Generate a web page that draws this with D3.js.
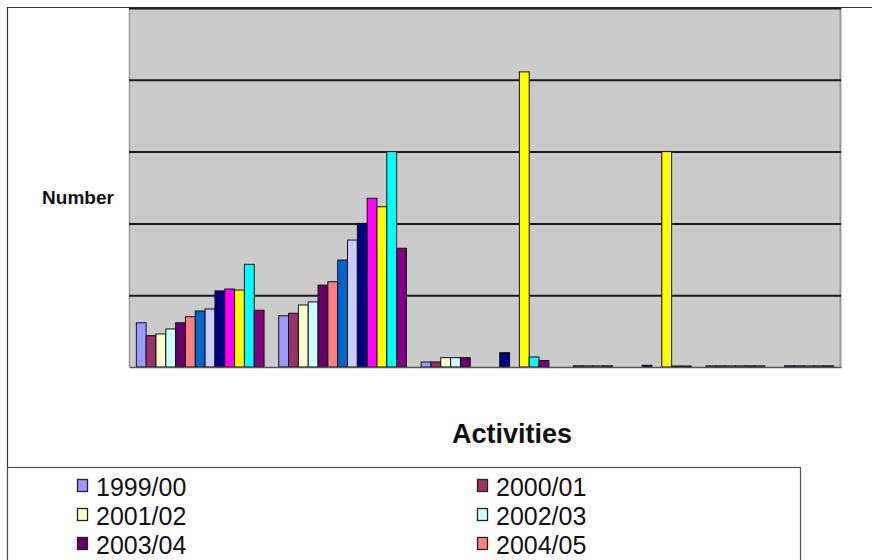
<!DOCTYPE html>
<html>
<head>
<meta charset="utf-8">
<script src="https://cdn.jsdelivr.net/npm/d3@7"></script>
<style>
  html, body { margin: 0; padding: 0; background: #fff; }
  svg { display: block; font-family: "Liberation Sans", Arial, sans-serif; }
</style>
</head>
<body>
<svg id="chart" width="872" height="560"></svg>
<script>
// Seasons (one bar per season inside each activity group)
const seasons = ["1999/00", "2000/01", "2001/02", "2002/03", "2003/04", "2004/05",
                 "2005/06", "2006/07", "2007/08", "2008/09", "2009/10", "2010/11", "2011/12"];
const seasonColors = ["#9999FF", "#993366", "#FFFFCC", "#CCFFFF", "#660066", "#FF8080",
                      "#0066CC", "#CCCCFF", "#000080", "#FF00FF", "#FFFF00", "#00FFFF", "#800080"];
const activities = ["Activity 1", "Activity 2", "Activity 3", "Activity 4", "Activity 5"];

// Number per season, one array per activity
const activity1 = [30.8, 21.8, 23, 26.5, 30.8, 35, 39, 40.4, 53, 54.3, 53.6, 71.5, 39.5];
const activity2 = [35.7, 37.4, 43.2, 45.3, 57, 59.4, 74.5, 88.4, 100, 117.5, 111.6, 150, 82.7];
const activity3 = [3.5, 3.5, 6.5, 6.5, 6.5, 0, 0, 0, 10, 0, 205.5, 7, 4.5];
const activity4 = [0, 0.8, 0.8, 0.8, 0.8, 0, 0, 0, 1.2, 0, 150, 0.7, 0.7];
const activity5 = [0.8, 0.8, 0.8, 0.8, 0.8, 0.8, 0, 0, 0.8, 0.8, 0.8, 0.8, 0.8];
const gridValues = [50, 100, 150, 200, 250];

const valuesByActivity = [activity1, activity2, activity3, activity4, activity5];

const W = 872, H = 560;
const svg = d3.select("#chart");
const plot = { left: 129, right: 841, top: 8, bottom: 367 };

// Chart frame
svg.append("rect").attr("x", 0).attr("y", 0).attr("width", W).attr("height", H).attr("fill", "#fff");
svg.append("line").attr("x1", 7).attr("x2", W).attr("y1", 7.5).attr("y2", 7.5)
  .attr("stroke", "#333").attr("stroke-width", 1.2);
svg.append("line").attr("x1", 7.5).attr("x2", 7.5).attr("y1", 7).attr("y2", H)
  .attr("stroke", "#333").attr("stroke-width", 1.2);

const x0 = d3.scaleBand().domain(activities).range([plot.left, plot.right])
  .paddingInner(0.103).paddingOuter(0.0515);
const x1 = d3.scaleBand().domain(seasons).range([0, x0.bandwidth()]);
const y = d3.scaleLinear().domain([0, 250]).range([plot.bottom, plot.top]);
const color = d3.scaleOrdinal().domain(seasons).range(seasonColors);

// Plot area
svg.append("rect")
  .attr("x", plot.left).attr("y", plot.top)
  .attr("width", plot.right - plot.left).attr("height", plot.bottom - plot.top)
  .attr("fill", "#cbcbcb");
svg.append("line").attr("x1", plot.left + 0.5).attr("x2", plot.left + 0.5)
  .attr("y1", plot.top).attr("y2", plot.bottom).attr("stroke", "#9a9a9a").attr("stroke-width", 1.5);
svg.append("line").attr("x1", plot.right - 0.5).attr("x2", plot.right - 0.5)
  .attr("y1", plot.top).attr("y2", plot.bottom).attr("stroke", "#9a9a9a").attr("stroke-width", 2);

// Horizontal gridlines
const yAxis = d3.axisLeft(y).tickValues(gridValues)
  .tickSize(-(plot.right - plot.left)).tickFormat("");
const gGrid = svg.append("g").attr("transform", `translate(${plot.left},0)`).call(yAxis);
gGrid.select(".domain").remove();
gGrid.selectAll(".tick line").attr("stroke", "#1a1a1a").attr("stroke-width", 2);

// Bars
const groups = svg.append("g").selectAll("g")
  .data(activities)
  .join("g")
  .attr("transform", d => `translate(${x0(d)},0)`);

groups.selectAll("rect")
  .data((a, i) => seasons.map((s, j) => ({ season: s, value: valuesByActivity[i][j] })))
  .join("rect")
  .attr("x", d => x1(d.season))
  .attr("y", d => y(d.value))
  .attr("width", x1.bandwidth())
  .attr("height", d => y(0) - y(d.value))
  .attr("fill", d => color(d.season))
  .attr("stroke", "#111")
  .attr("stroke-width", 1);

// Category axis line (no tick labels)
const xAxis = d3.axisBottom(x0).tickSize(0).tickFormat("");
const gX = svg.append("g").attr("transform", `translate(0,${plot.bottom})`).call(xAxis);
gX.select(".domain").attr("stroke", "#555").attr("stroke-width", 1.5);

// Axis titles
svg.append("text").attr("x", 78).attr("y", 204).attr("text-anchor", "middle")
  .attr("font-weight", "bold").attr("font-size", 19).attr("fill", "#111").text("Number");
svg.append("text").attr("x", 512).attr("y", 443).attr("text-anchor", "middle")
  .attr("font-weight", "bold").attr("font-size", 27).attr("fill", "#111").text("Activities");

// Legend: two columns; only the rows that fit inside the canvas are laid out
const legendTop = 479, rowStep = 29, fontSize = 25;
const legendSeasons = seasons.filter((s, i) =>
  legendTop + Math.floor(i / 2) * rowStep + 17 + fontSize * 0.22 < H);
const legend = svg.append("g");
legend.append("rect").attr("x", 7.5).attr("y", 467.5).attr("width", 793).attr("height", 140)
  .attr("fill", "#fff").attr("stroke", "#555").attr("stroke-width", 1.2);
const items = legend.selectAll("g.item")
  .data(legendSeasons)
  .join("g")
  .attr("class", "item")
  .attr("transform", (d, i) => `translate(${i % 2 === 0 ? 77 : 477},${legendTop + Math.floor(i / 2) * rowStep})`);
items.append("rect").attr("x", 0.5).attr("y", 0.5).attr("width", 10).attr("height", 12)
  .attr("fill", d => color(d)).attr("stroke", "#222").attr("stroke-width", 1.3);
items.append("text").attr("x", 19).attr("y", 17).attr("font-size", fontSize).attr("fill", "#111")
  .text(d => d);
</script>
</body>
</html>
